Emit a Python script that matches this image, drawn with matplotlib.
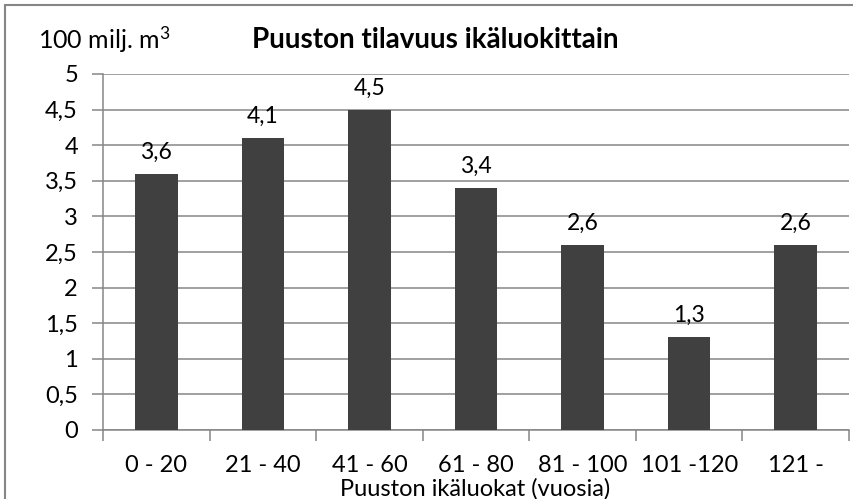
import matplotlib
matplotlib.use('Agg')
import matplotlib.pyplot as plt
from matplotlib.patches import Rectangle
from matplotlib.ticker import FuncFormatter, MultipleLocator

# Data
age_classes = ['0 - 20', '21 - 40', '41 - 60', '61 - 80', '81 - 100', '101 -120', '121 -']
volumes = [3.6, 4.1, 4.5, 3.4, 2.6, 1.3, 2.6]

title = 'Puuston tilavuus ikäluokittain'
y_unit = '100 milj. m$^3$'
x_title = 'Puuston ikäluokat (vuosia)'

plt.rcParams['font.family'] = ['Lato', 'DejaVu Sans']
plt.rcParams['mathtext.fontset'] = 'custom'
plt.rcParams['mathtext.rm'] = 'Lato'
plt.rcParams['mathtext.default'] = 'regular'

BAR_COLOR = '#404040'
GRID_COLOR = '#868686'

def fi_num(v, pos=None):
    s = f'{v:g}'
    return s.replace('.', ',')

fig = plt.figure(figsize=(8.54, 4.99), dpi=100)
ax = fig.add_axes([103 / 854, 1 - 430 / 499, 746 / 854, 356 / 499])

x = list(range(len(age_classes)))
bars = ax.bar(x, volumes, width=0.4, color=BAR_COLOR, zorder=3)

for xi, v in zip(x, volumes):
    ax.annotate(fi_num(v), (xi, v), xytext=(0, 8), textcoords='offset points',
                ha='center', va='bottom', fontsize=16.5, color='black')

ax.set_xlim(-0.5, len(age_classes) - 0.5)
ax.set_ylim(0, 5)
ax.yaxis.set_major_locator(MultipleLocator(0.5))
ax.yaxis.set_major_formatter(FuncFormatter(fi_num))
ax.grid(axis='y', color=GRID_COLOR, lw=1.1, zorder=0)

# category labels in the middle, tick marks at the boundaries
ax.set_xticks(x)
ax.set_xticklabels(age_classes)
ax.tick_params(axis='x', which='major', length=0, pad=18, labelsize=17)
ax.set_xticks([i - 0.5 for i in range(len(age_classes) + 1)], minor=True)
ax.tick_params(axis='x', which='minor', length=8, width=1.1, color=GRID_COLOR)
ax.tick_params(axis='y', length=8, width=1.1, color=GRID_COLOR, labelsize=17, pad=10)

for side in ['top', 'right']:
    ax.spines[side].set_visible(False)
for side in ['left', 'bottom']:
    ax.spines[side].set_color(GRID_COLOR)
    ax.spines[side].set_linewidth(1.1)

fig.text(38 / 854, 1 - 40 / 499, y_unit, fontsize=18, va='center', ha='left')
fig.text(435 / 854, 1 - 40 / 499, title, fontsize=20, fontweight='bold', va='center', ha='center')
# x title is partly cut off at the bottom edge, as in the original
fig.text(475 / 854, 1 - 489 / 499, x_title, fontsize=17, va='center', ha='center')

# chart area border (cut off on the right and bottom in the original)
fig.add_artist(Rectangle((5 / 854, -0.1), 1.2, 1.1 - 5.5 / 499, transform=fig.transFigure,
                         fill=False, edgecolor=GRID_COLOR, lw=1.5))

fig.savefig('out.png', dpi=100)
